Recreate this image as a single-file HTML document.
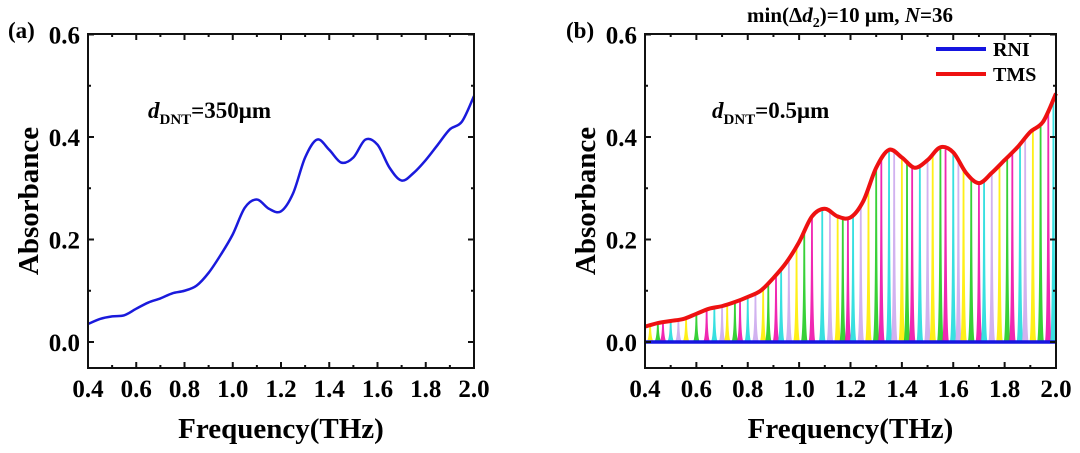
<!DOCTYPE html>
<html><head><meta charset="utf-8"><style>
body{margin:0;background:#fff;}
svg,svg text{font-family:"Liberation Serif","DejaVu Serif",serif;font-weight:bold;}
</style></head><body>
<svg id="c" width="1080" height="448" xmlns="http://www.w3.org/2000/svg"></svg>
<script>
const freqA=[0.4,0.45,0.5,0.55,0.6,0.65,0.7,0.75,0.8,0.85,0.9,0.95,1.0,1.05,1.1,1.15,1.2,1.25,1.3,1.35,1.4,1.45,1.5,1.55,1.6,1.65,1.7,1.75,1.8,1.85,1.9,1.95,2.0];
const absA=[0.035,0.045,0.05,0.052,0.065,0.077,0.085,0.095,0.1,0.11,0.135,0.17,0.21,0.262,0.278,0.26,0.255,0.29,0.36,0.395,0.375,0.35,0.36,0.395,0.385,0.34,0.315,0.33,0.355,0.385,0.415,0.43,0.48];
const absTMS=[0.03,0.037,0.041,0.045,0.055,0.065,0.07,0.078,0.088,0.1,0.125,0.155,0.195,0.245,0.26,0.245,0.243,0.275,0.34,0.375,0.36,0.34,0.355,0.38,0.37,0.33,0.31,0.33,0.355,0.38,0.41,0.43,0.485];
const spikeF=[0.42,0.45,0.47,0.5,0.53,0.56,0.6,0.64,0.67,0.7,0.72,0.75,0.77,0.8,0.83,0.86,0.88,0.91,0.93,0.96,0.99,1.02,1.05,1.09,1.12,1.15,1.17,1.19,1.21,1.24,1.27,1.3,1.32,1.35,1.37,1.4,1.42,1.44,1.47,1.5,1.52,1.55,1.57,1.6,1.62,1.64,1.67,1.7,1.72,1.75,1.78,1.81,1.83,1.86,1.88,1.91,1.94,1.97,1.99];
const spikeColors=["#ffee00","#22cc22","#ee11aa","#22dddd","#ccaaee"];
const ticksX=[0.4,0.6,0.8,1.0,1.2,1.4,1.6,1.8,2.0];
const ticksY=[0.0,0.2,0.4,0.6];
const NS="http://www.w3.org/2000/svg";
const svg=document.getElementById('c');
function mk(t,a,p){const e=document.createElementNS(NS,t);for(const k in a)e.setAttribute(k,a[k]);(p||svg).appendChild(e);return e;}
function interp(xs,ys,x){for(let i=0;i<xs.length-1;i++){if(x<=xs[i+1]){const t=(x-xs[i])/(xs[i+1]-xs[i]);return ys[i]+t*(ys[i+1]-ys[i]);}}return ys[ys.length-1];}
function smoothPath(pts){let d="M"+pts[0][0]+","+pts[0][1];for(let i=0;i<pts.length-1;i++){const p0=pts[i-1]||pts[i],p1=pts[i],p2=pts[i+1],p3=pts[i+2]||p2;d+=` C${p1[0]+(p2[0]-p0[0])/6},${p1[1]+(p2[1]-p0[1])/6} ${p2[0]-(p3[0]-p1[0])/6},${p2[1]-(p3[1]-p1[1])/6} ${p2[0]},${p2[1]}`;}return d;}
function panel(L,R,name){
  const T=34,B=368;
  const sx=v=>L+(v-0.4)/(1.6)*(R-L);
  const sy=v=>342-v/0.2*102.5;
  const g=mk('g',{});
  
  
  return {g,sx,sy,T,B,L,R};
}
function axes(P){
  const {g,sx,sy,T,B,L,R}=P;
  const box=mk('rect',{x:L,y:T,width:R-L,height:B-T,fill:'none',stroke:'#111','stroke-width':2},g);
  
  ticksX.forEach((v,i)=>{const x=sx(v);mk('line',{x1:x,x2:x,y1:B,y2:B-6,stroke:'#111','stroke-width':2},g);mk('line',{x1:x,x2:x,y1:T,y2:T+6,stroke:'#111','stroke-width':2},g);
    if(i<ticksX.length-1){const m=sx(v+0.1);mk('line',{x1:m,x2:m,y1:B,y2:B-3,stroke:'#111','stroke-width':2},g);mk('line',{x1:m,x2:m,y1:T,y2:T+3,stroke:'#111','stroke-width':2},g);}
    const t=mk('text',{x:x,y:B+29,'text-anchor':'middle','font-size':25},g);t.textContent=v.toFixed(1);
    });
  ticksY.forEach((v,i)=>{const y=sy(v);mk('line',{x1:L,x2:L+6,y1:y,y2:y,stroke:'#111','stroke-width':2},g);mk('line',{x1:R,x2:R-6,y1:y,y2:y,stroke:'#111','stroke-width':2},g);
    if(i<ticksY.length-1){const m=sy(v+0.1);mk('line',{x1:L,x2:L+3,y1:m,y2:m,stroke:'#111','stroke-width':2},g);mk('line',{x1:R,x2:R-3,y1:m,y2:m,stroke:'#111','stroke-width':2},g);}
    const t=mk('text',{x:L-8,y:y+9,'text-anchor':'end','font-size':25},g);t.textContent=v.toFixed(1);
    });
  const xt=mk('text',{x:(L+R)/2,y:438,'text-anchor':'middle','font-size':29},g);xt.textContent='Frequency(THz)';
  
  const yt=mk('text',{x:0,y:0,'text-anchor':'middle','font-size':29,transform:`translate(${L-50},${(T+B)/2}) rotate(-90)`},g);yt.textContent='Absorbance';
  
}
// Panel a
const A=panel(88,474,'panel-a');
const la=mk('path',{d:smoothPath(freqA.map((f,i)=>[A.sx(f),A.sy(absA[i])])),fill:'none',stroke:'#1a1adc','stroke-width':2.5},A.g);

axes(A);
let t=mk('text',{x:8,y:38,'font-size':23});t.textContent='(a)';
t=mk('text',{x:148,y:118,'font-size':23},A.g);t.innerHTML='<tspan font-style="italic">d</tspan><tspan font-size="15" dy="6">DNT</tspan><tspan dy="-6">=350μm</tspan>';

// Panel b
const Bp=panel(645,1056,'panel-b');
const clip=mk('clipPath',{id:'cb'});mk('rect',{x:645,y:34,width:411,height:334},clip);
const sg=mk('g',{'clip-path':'url(#cb)'},Bp.g);
spikeF.forEach((f,i)=>{
  const h=interp(freqA,absTMS,f);const x=Bp.sx(f),y0=Bp.sy(0),y1=Bp.sy(h);
  const p=mk('path',{d:`M${x-3.5},${y0} Q${x-1},${y0-4} ${x-0.9},${y1} L${x+0.9},${y1} Q${x+1},${y0-4} ${x+3.5},${y0} Z`,fill:spikeColors[i%5],opacity:0.9},sg);
  
});
const rni=mk('line',{x1:645,x2:1056,y1:Bp.sy(0),y2:Bp.sy(0),stroke:'#1515e0','stroke-width':3.5},Bp.g);

const tms=mk('path',{d:smoothPath(freqA.map((f,i)=>[Bp.sx(f),Bp.sy(absTMS[i])])),fill:'none',stroke:'#ee1111','stroke-width':4},Bp.g);

axes(Bp);
t=mk('text',{x:566,y:38,'font-size':23});t.textContent='(b)';
t=mk('text',{x:850,y:22,'text-anchor':'middle','font-size':21});t.innerHTML='min(Δ<tspan font-style="italic">d</tspan><tspan font-size="14" dy="5">2</tspan><tspan dy="-5">)=10 μm, </tspan><tspan font-style="italic">N</tspan>=36';

t=mk('text',{x:712,y:118,'font-size':23},Bp.g);t.innerHTML='<tspan font-style="italic">d</tspan><tspan font-size="15" dy="6">DNT</tspan><tspan dy="-6">=0.5μm</tspan>';

const lg=mk('g',{});
mk('line',{x1:936,x2:986,y1:49,y2:49,stroke:'#1515e0','stroke-width':4},lg);
t=mk('text',{x:993,y:56,'font-size':20},lg);t.textContent='RNI';
mk('line',{x1:936,x2:986,y1:74,y2:74,stroke:'#ee1111','stroke-width':4},lg);
t=mk('text',{x:993,y:81,'font-size':20},lg);t.textContent='TMS';
</script>
</body></html>
